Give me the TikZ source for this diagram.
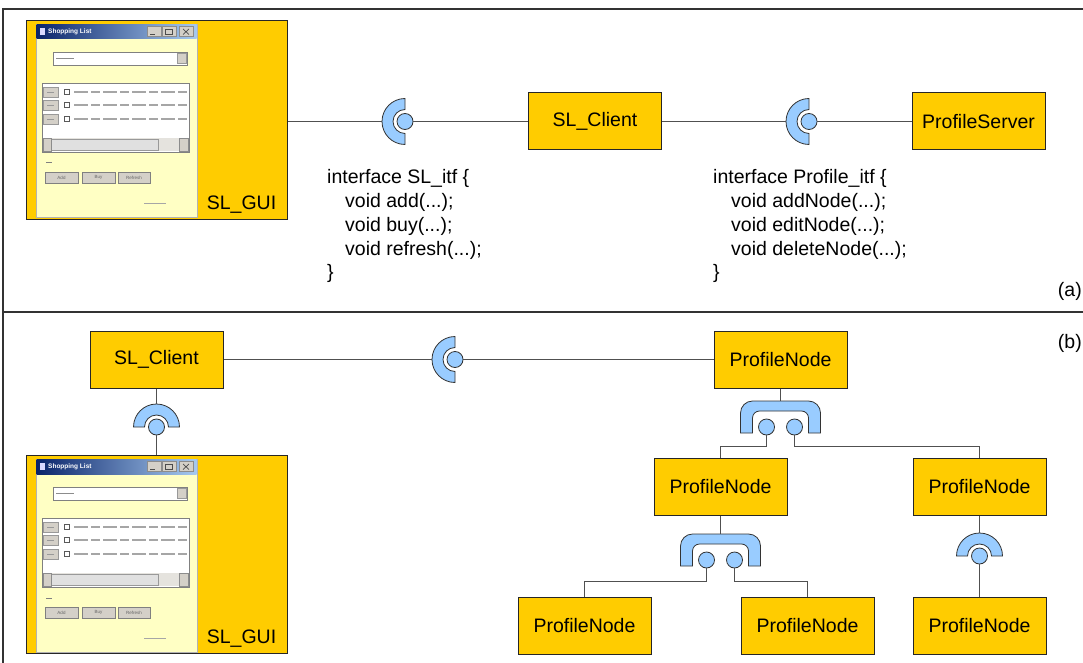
\documentclass[tikz,border=0pt]{standalone}
\usepackage{fontspec}
\setmainfont{Liberation Sans}
\usetikzlibrary{calc}

\definecolor{boxgold}{HTML}{FFCC00}
\definecolor{sockblue}{HTML}{99CCFF}
\definecolor{wirecol}{HTML}{505050}
\definecolor{framecol}{HTML}{333333}
\definecolor{winyellow}{HTML}{FFFFC4}
\definecolor{winface}{HTML}{D4D0C8}
\definecolor{titledark}{HTML}{0A246A}
\definecolor{titlelight}{HTML}{A6CAF0}

\tikzset{
  lbl/.style={font=\fontsize{19.5}{23.75}\selectfont},
  comp/.style={lbl, draw=black!85, line width=1, fill=boxgold, inner sep=0,
               minimum width=133, minimum height=57},
  guibox/.style={draw=black!85, line width=1, fill=boxgold, inner sep=0,
                 minimum width=261, minimum height=198},
  code/.style={lbl, anchor=north west, align=left, inner sep=0},
  wire/.style={draw=wirecol, line width=1.1},
  frameline/.style={draw=framecol, line width=1.2},
  sockfill/.style={fill=sockblue, draw=black!80, line width=0.8},
  % required interface: half ring opening to the right, ball inside
  socket/.pic={
    \path[sockfill] (90:23) arc (90:270:23) -- (270:12) arc (270:90:12) -- cycle;
    \path[sockfill] (0,0) circle (8);
    \coordinate (-out) at (180:23);
    \coordinate (-ball) at (0:8);
  },
  % shared socket offering two provided ports
  multisock/.pic={
    \path[sockfill] (-40,32) -- (-40,12) arc (180:270:12) -- (28,0)
      arc (270:360:12) -- (40,32) -- (28,32) -- (28,17) arc (0:-90:7)
      -- (-21,10) arc (270:180:7) -- (-28,32) -- cycle;
    \path[sockfill] (-14,26) circle (8);
    \path[sockfill] (14,26) circle (8);
    \coordinate (-top) at (0,0);
    \coordinate (-l) at (-14,34);
    \coordinate (-r) at (14,34);
  },
  % small Shopping List window, origin at its top left corner
  shopwin/.pic={
    \path[fill=winyellow, draw=black!30, line width=0.8] (0,0) rectangle (161,193);
    \shade[left color=titledark, right color=titlelight] (0.5,0.5) rectangle (160.5,15);
    \path[fill=white!85!blue] (4,4) rectangle (9,11);
    \node[anchor=west, text=white, inner sep=0,
          font=\bfseries\fontsize{6.5}{7}\selectfont] (-title) at (12,7.8) {Shopping List};
    \foreach \bx in {111,126,143}
      \path[fill=winface, draw=black!45, line width=0.5] (\bx,2.5) rectangle ++(14,10);
    \draw[black!70, line width=0.8] (114,10.5) -- (119,10.5);
    \draw[black!70, line width=0.6] (129,5) rectangle (136,10.5);
    \draw[black!70, line width=0.7] (147,5) -- (153,10.5) (147,10.5) -- (153,5);
    % combo box
    \path[fill=white, draw=black!50, line width=0.6] (17,28) rectangle (151,41);
    \path[fill=winface, draw=black!40, line width=0.5] (141,29.5) rectangle (150,39.5);
    \draw[black!45, line width=1.2] (20,34.5) -- (38,34.5);
    % list of items
    \path[fill=white, draw=black!50, line width=0.6] (6,59) rectangle (153,128);
    \foreach \ry in {68,81,95} {
      \path[fill=winface, draw=black!40, line width=0.5] (7,\ry-5) rectangle (22,\ry+5);
      \draw[black!40, line width=0.8] (11,\ry) -- (18,\ry);
      \draw[black!65, line width=0.6] (28,\ry-3) rectangle (33,\ry+2);
      \draw[black!35, line width=1.3, dash pattern=on 14pt off 3pt on 9pt off 3pt]
        (38,\ry) -- (151,\ry);
    }
    % horizontal scroll bar
    \path[fill=winface!60] (7,114) rectangle (152,127);
    \path[fill=black!12, draw=black!40, line width=0.5] (15,115) rectangle (122,126);
    \path[fill=winface, draw=black!45, line width=0.5] (7,114) rectangle (15,127);
    \path[fill=winface, draw=black!45, line width=0.5] (143,114) rectangle (152,127);
    % item label, buttons and status
    \draw[black!50, line width=1] (10,139) -- (16,139);
    \foreach \bx/\bw/\lab in {9/33/Add,46/33/Buy,82/32/Refresh} {
      \path[fill=winface, draw=black!50, line width=0.6] (\bx,148) rectangle ++(\bw,11);
      \node[inner sep=0, text=black!60, font=\fontsize{4.5}{5}\selectfont]
        (-btn\lab) at (\bx+\bw/2,153.5) {\lab};
    }
    \draw[black!35, line width=1] (108,179) -- (130,179);
  }
}

\begin{document}
\begin{tikzpicture}[x=1pt, y=-1pt]
\useasboundingbox (0,0) rectangle (1083,663);

% panel frame and divider
\draw[frameline] (3,663) -- (3,9) -- (1083,9);
\draw[frameline] (3,312) -- (1083,312);
\node[lbl, anchor=east, inner sep=0] (tagA) at (1082,291) {(a)};
\node[lbl, anchor=east, inner sep=0] (tagB) at (1082,343) {(b)};

% ---------- (a) client/server ----------
\node[guibox] (guiA) at (156.5,120) {};
\pic (winA) at (36,24) {shopwin};
\node[lbl, inner sep=0] (guiAtxt) at ($(guiA.south east)+(-46,-15)$) {SL\_GUI};

\node[comp] (cA) at (595,121.5) {SL\_Client};
\node[comp] (srv) at (978.5,121.5) {ProfileServer};

\pic (sA) at (405,121.5) {socket};
\pic (sB) at (809,121.5) {socket};
\draw[wire] (guiA.east |- sA-out) -- (sA-out);
\draw[wire] (sA-ball) -- (cA.west |- sA-ball);
\draw[wire] (cA.east |- sB-out) -- (sB-out);
\draw[wire] (sB-ball) -- (srv.west |- sB-ball);

\node[code] (itfA) at (327,169.5) {interface SL\_itf \{\\
  \hspace*{18pt}void add(...);\\
  \hspace*{18pt}void buy(...);\\
  \hspace*{18pt}void refresh(...);\\
  \}};
\node[code] (itfB) at (713,169.5) {interface Profile\_itf \{\\
  \hspace*{18pt}void addNode(...);\\
  \hspace*{18pt}void editNode(...);\\
  \hspace*{18pt}void deleteNode(...);\\
  \}};

% ---------- (b) peer-to-peer ----------
\node[comp] (cB) at (156.5,359.5) {SL\_Client};
\node[guibox] (guiB) at (156.5,554) {};
\pic (winB) at (36,459) {shopwin};
\node[lbl, inner sep=0] (guiBtxt) at ($(guiB.south east)+(-46,-15)$) {SL\_GUI};

\node[comp] (pTop) at (780.5,359.5) {ProfileNode};
\node[comp] (pL)   at (720.5,486.5) {ProfileNode};
\node[comp] (pR)   at (979.5,486.5) {ProfileNode};
\node[comp] (pBL)  at (584.5,625.5) {ProfileNode};
\node[comp] (pBM)  at (807.5,625.5) {ProfileNode};
\node[comp] (pBR)  at (979.5,625.5) {ProfileNode};

\pic[rotate=-90] (sC) at (156.5,427) {socket};
\draw[wire] (cB.south) -- (sC-out);
\draw[wire] (sC-ball) -- (guiB.north);

\pic (sE) at (455,359.5) {socket};
\draw[wire] (cB.east) -- (sE-out);
\draw[wire] (sE-ball) -- (pTop.west);

\pic (mA) at (780.5,401) {multisock};
\draw[wire] (pTop.south) -- (mA-top);
\draw[wire] (mA-l) -- ++(0,11.5) -| (pL.north);
\draw[wire] (mA-r) -- ++(0,11.5) -| (pR.north);

\pic (mB) at (720.5,534) {multisock};
\draw[wire] (pL.south) -- (mB-top);
\draw[wire] (mB-l) -- ++(0,13.5) -| (pBL.north);
\draw[wire] (mB-r) -- ++(0,13.5) -| (pBM.north);

\pic[rotate=-90] (sD) at (979.5,556) {socket};
\draw[wire] (pR.south) -- (sD-out);
\draw[wire] (sD-ball) -- (pBR.north);
\end{tikzpicture}
\end{document}
